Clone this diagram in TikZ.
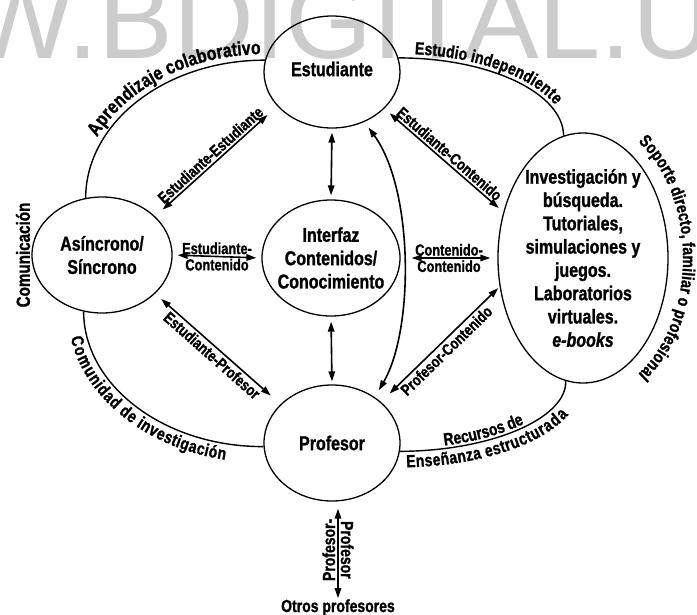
\documentclass[tikz,border=0pt]{standalone}
\usepackage{fontspec}
\setmainfont{Liberation Sans}[FakeStretch=0.8, FakeBold=1.2]
\newfontfamily\dgMarkFont{Liberation Sans}
\usetikzlibrary{shapes.geometric, arrows.meta, decorations.text}

\newcommand\dgBubbleFont{\bfseries\fontsize{20}{23.3}\selectfont}
\newcommand\dgArcFont{\bfseries\fontsize{17.5}{19}\selectfont}
\newcommand\dgWideArcFont{\bfseries\fontsize{19.5}{21}\selectfont}
\newcommand\dgSideFont{\bfseries\fontsize{19}{21}\selectfont}
\newcommand\dgLinkFont{\bfseries\fontsize{16}{18}\selectfont}
\newcommand\dgPeerFont{\bfseries\fontsize{17.5}{19}\selectfont}

\begin{document}
\begin{tikzpicture}[x=1pt, y=1pt,
  bubble/.style={ellipse, draw, line width=1.3pt, inner sep=0pt},
  bubbletext/.style={font=\dgBubbleFont, align=center, inner sep=0pt},
  link/.style={line width=1.6pt},
  dbl/.style={link, {Triangle[length=10pt,width=6.5pt]}-{Triangle[length=10pt,width=6.5pt]}},
  ring/.style={line width=1.4pt},
  lbl/.style={font=\dgLinkFont, inner sep=2pt},
  peer/.style={font=\dgPeerFont, inner sep=1pt},
  along/.style 2 args={postaction={decorate, decoration={text along path,
      text={|\dgArcFont|#1}, #2}}},
  widealong/.style 2 args={postaction={decorate, decoration={text along path,
      text={|\dgWideArcFont|#1}, #2}}}
]
\useasboundingbox (0,0) rectangle (697,-614);

% faint watermark lettering behind the diagram
\node[font=\dgMarkFont\fontsize{112}{112}\selectfont, text=black!20,
      anchor=base west, inner sep=0pt] (mark) at (-32,-58) {W.BDIGITAL.U};

% the five bubbles
\node[bubble, minimum width=136pt, minimum height=112pt] (est)  at (332,-72)  {};
\node[bubble, minimum width=140pt, minimum height=116pt] (asin) at (102,-255) {};
\node[bubble, minimum width=138pt, minimum height=116pt] (intf) at (331,-258) {};
\node[bubble, minimum width=136pt, minimum height=116pt] (prof) at (332,-443) {};
\node[bubble, minimum width=170pt, minimum height=250pt] (rec)  at (583,-258) {};

\node[bubbletext] (esttxt)  at ([yshift=3pt]est.center)  {Estudiante};
\node[bubbletext] (asintxt) at (asin.center) {Asíncrono/\\Síncrono};
\node[bubbletext] (intftxt) at (intf.center) {Interfaz\\Contenidos/\\Conocimiento};
\node[bubbletext] (proftxt) at (prof.center) {Profesor};
\node[bubbletext] (rectxt)  at (rec.center)  {Investigación y\\búsqueda.\\Tutoriales,\\simulaciones y\\juegos.\\Laboratorios\\virtuales.\\\textit{e-books}};

% outer ring of arcs with their labels
\draw[ring, widealong={Aprendizaje colaborativo}{text align={right, right indent=4pt}, raise=6pt}]
  (asin.106) .. controls (86,-122) and (166,-60) .. (est.170);
\draw[ring, along={Comunidad de investigación}{text align={left, left indent=22pt}, raise=-16pt}]
  (asin.252) .. controls (84,-386) and (165,-447) .. (prof.183);
\draw[ring, along={Estudio independiente}{text align={left, left indent=16pt}, raise=4pt}]
  (est.12) .. controls (490,-58) and (563,-93) .. (rec.99);
\draw[ring, along={Recursos de}{text align={left, left indent=45pt}, raise=3pt},
            along={Enseñanza estructurada}{text align={left, left indent=6pt}, raise=-16pt}]
  (prof.-7) .. controls (492,-451) and (567,-418) .. (rec.262);

\path[along={Soporte directo, familiar o profesional}{text align=center, raise=2pt}]
  ([shift={(46,121)}]rec.center) arc[start angle=62, end angle=-62, x radius=98, y radius=137];

\node[font=\dgSideFont, inner sep=1pt, rotate=90] (comm) at (23,-255) {Comunicación};

% interaction arrows
\draw[dbl, shorten <=10pt, shorten >=13pt] (asin.36) --
  node[lbl, sloped, above] (ee) {Estudiante-Estudiante} (est.-148);
\draw[dbl, shorten <=7pt, shorten >=6pt] (est.-35) --
  node[lbl, sloped, above] (ec) {Estudiante-Contenido} (rec.150);
\draw[dbl, shorten <=8pt, shorten >=13pt] (asin.-36) --
  node[lbl, sloped, below] (ep) {Estudiante-Profesor} (prof.143);
\draw[dbl, shorten <=12pt, shorten >=2pt] (prof.40) --
  node[lbl, sloped, below] (pc) {Profesor-Contenido} (rec.-161);

\draw[dbl, shorten <=5pt, shorten >=5pt] (asin.east) --
  node[lbl, above, inner sep=1.5pt] (ec1) {Estudiante-}
  node[lbl, below, inner sep=1.5pt] (ec2) {Contenido} (intf.west);
\draw[dbl, shorten <=11pt, shorten >=7pt] (intf.east) --
  node[lbl, above, inner sep=1.5pt] (cc1) {Contenido-}
  node[lbl, below, inner sep=1.5pt] (cc2) {Contenido} (rec.west);

\draw[dbl, shorten <=4pt, shorten >=4pt] (est.south) -- (intf.north);
\draw[dbl, shorten <=5pt, shorten >=3pt] (intf.south) -- (prof.north);

\draw[dbl, shorten <=7pt, shorten >=8pt] (est.-57)
  .. controls (414,-190) and (414,-330) .. (prof.47);

% link to the other teachers
\node[peer, anchor=base] (otros) at (338,-612) {Otros profesores};
\draw[dbl, shorten <=7pt] (prof.south -| otros.north) --
  node[peer, midway, rotate=90, anchor=south, inner sep=2pt] (pp1) {Profesor-}
  node[peer, midway, rotate=-90, anchor=south, inner sep=2pt] (pp2) {Profesor}
  (otros.north);
\end{tikzpicture}
\end{document}
